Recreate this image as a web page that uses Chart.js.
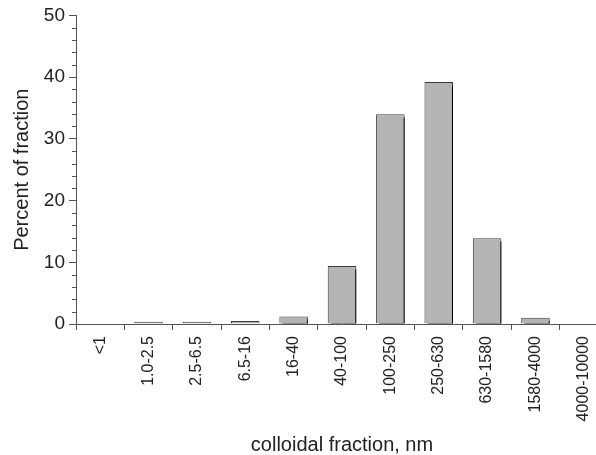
<!DOCTYPE html>
<html>
<head>
<meta charset="utf-8">
<script src="https://cdn.jsdelivr.net/npm/chart.js@4/dist/chart.umd.min.js"></script>
<style>
  html, body { margin: 0; padding: 0; background: #fff; overflow: hidden; }
  #wrap { position: absolute; left: 0; top: 0; width: 620px; height: 455px; }
</style>
</head>
<body>
<div id="wrap"><canvas id="chart"></canvas></div>
<script>
const categories = ['<1', '1.0-2.5', '2.5-6.5', '6.5-16', '16-40', '40-100', '100-250', '250-630', '630-1580', '1580-4000', '4000-10000']
const percentValues = [0, 0.35, 0.35, 0.5, 1.2, 9.4, 34.0, 39.2, 13.9, 1.0, 0]
const yMajorTicks = [0, 10, 20, 30, 40, 50]
const yMinorStep = 2

const FONT = "'Liberation Sans', Arial, sans-serif"
const INK = '#222'
const AXIS = '#555'

// hard black drop shadow on the bars, like the old spreadsheet look
const barShadow = {
  id: 'barShadow',
  beforeDatasetDraw(chart) {
    const ctx = chart.ctx
    ctx.save()
    ctx.shadowColor = '#000'
    ctx.shadowOffsetX = 3
    ctx.shadowOffsetY = 3
    ctx.shadowBlur = 0
  },
  afterDatasetDraw(chart) {
    chart.ctx.restore()
  }
}

// small ticks between the labelled ones on the y axis
const minorTicks = {
  id: 'minorTicks',
  afterDraw(chart) {
    const y = chart.scales.y
    const ctx = chart.ctx
    ctx.save()
    ctx.strokeStyle = AXIS
    ctx.lineWidth = 1
    for (let v = y.min; v <= y.max; v += yMinorStep) {
      if (yMajorTicks.includes(v)) continue
      const py = Math.round(y.getPixelForValue(v)) + 0.5
      ctx.beginPath()
      ctx.moveTo(y.right - 4, py)
      ctx.lineTo(y.right, py)
      ctx.stroke()
    }
    ctx.restore()
  }
}

const ctx = document.getElementById('chart').getContext('2d')

new Chart(ctx, {
  type: 'bar',
  data: {
    labels: categories,
    datasets: [{
      data: percentValues,
      backgroundColor: '#b4b4b4',
      borderColor: '#3a3a3a',
      borderWidth: 1,
      barPercentage: 0.59,
      categoryPercentage: 1,
      clip: { left: false, top: false, right: false, bottom: 0 }
    }]
  },
  options: {
    responsive: true,
    maintainAspectRatio: false,
    animation: false,
    layout: {
      padding: { left: 0, right: 12, top: 6, bottom: 0 }
    },
    plugins: {
      legend: { display: false },
      tooltip: { enabled: false }
    },
    scales: {
      x: {
        grid: {
          display: true,
          drawOnChartArea: false,
          offset: true,
          tickLength: 6,
          color: AXIS
        },
        border: { color: AXIS, width: 1, z: 1 },
        ticks: {
          autoSkip: false,
          minRotation: 90,
          maxRotation: 90,
          padding: 6,
          color: INK,
          font: { family: FONT, size: 16 }
        },
        title: {
          display: true,
          text: 'colloidal fraction, nm',
          color: INK,
          font: { family: FONT, size: 20, lineHeight: 1 },
          padding: 0
        },
        afterFit(scale) {
          scale.height = 131
        }
      },
      y: {
        min: 0,
        max: 50,
        afterBuildTicks(scale) {
          scale.ticks = yMajorTicks.map(v => ({ value: v }))
        },
        grid: {
          display: true,
          drawOnChartArea: false,
          tickLength: 7,
          color: AXIS
        },
        border: { color: AXIS, width: 1 },
        ticks: {
          padding: 4,
          color: INK,
          font: { family: FONT, size: 19 }
        },
        title: {
          display: true,
          text: 'Percent of fraction',
          color: INK,
          font: { family: FONT, size: 20, lineHeight: 1 },
          padding: { top: 12, bottom: 0 }
        },
        afterFit(scale) {
          scale.width = 76
        }
      }
    }
  },
  plugins: [barShadow, minorTicks]
})
</script>
</body>
</html>
